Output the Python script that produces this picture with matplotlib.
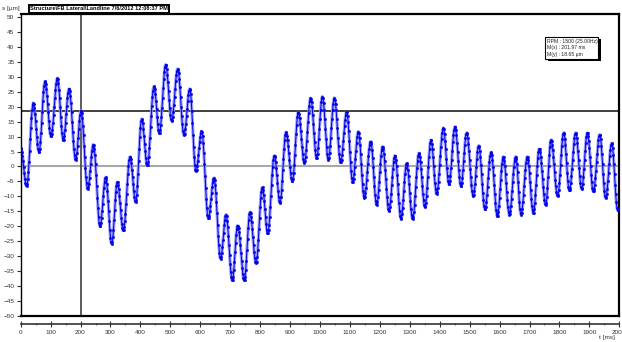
import numpy as np
import matplotlib
matplotlib.use("Agg")
import matplotlib.pyplot as plt
from matplotlib.patches import Rectangle

plt.rcParams['font.family'] = ['Liberation Sans Narrow', 'Liberation Sans', 'DejaVu Sans']

# ---- data: extremes (peaks / troughs) of the displacement signal ----
ext_t = [0, 19.9, 42.2, 61.1, 81.2, 101.2, 122.4, 142.4, 161.4, 183.7, 201.5, 223.8, 242.7, 265, 283.9, 304, 322.9,
         342.9, 365.2, 384.1, 404.2, 423.1, 445.4, 463.2, 484.4, 504.4, 524.5, 545.6, 564.6, 585.7, 604.6, 626.9, 645.8,
         667.9, 685.9, 707, 724.8, 747.1, 766.1, 786.2, 807.3, 825.2, 847.5, 866.4, 886.4, 907.6, 927.6, 947.7, 968.8, 988.9,
         1007.8, 1027.8, 1047.9, 1069, 1089.1, 1109.1, 1128, 1148.1, 1169.2, 1189.3, 1209.3, 1230.5, 1250.5, 1270.6, 1289.5, 1309.6, 1330.7,
         1350.7, 1370.8, 1389.7, 1412, 1430.9, 1451, 1471, 1489.9, 1512.2, 1530.1, 1551.3, 1571.3, 1592.5, 1612.6, 1632.6, 1653.8,
         1671.6, 1692.7, 1712.8, 1732.8, 1754, 1771.8, 1794.1, 1814.1, 1833.1, 1854.2, 1874.3, 1893.2, 1913.2, 1934.4, 1954.5, 1974.5, 1994.5, 2000]
ext_v = [6.2, -6.6, 21.2, 4.8, 28.5, 10.0, 29.5, 8.7, 26.0, 2.2, 18.7, -7.5, 7.4, -20.0, -3.6, -25.9, -5.2,
         -21.4, 3.3, -11.9, 15.9, 0.3, 26.8, 11.1, 34.1, 15.2, 32.7, 10.4, 26.0, -1.6, 11.8, -17.3, -3.8,
         -30.9, -16.1, -38.1, -19.7, -38.1, -15.3, -32.3, -6.9, -22.3, 3.7, -12.2, 11.5, -5.0, 18.2, 1.1, 22.9, 2.8,
         23.4, 2.3, 22.9, 1.4, 18.2, -5.2, 11.7, -10.5, 8.4, -12.8, 6.7, -14.9, 3.7, -17.5, 1.1, -17.5, 4.5,
         -13.6, 8.9, -9.1, 12.9, -6.0, 13.4, -6.6, 11.3, -10.0, 7.0, -14.4, 4.8, -16.7, 3.3, -16.1, 3.3,
         -16.1, 3.3, -15.6, 5.9, -12.8, 8.9, -9.9, 11.3, -8.0, 11.3, -7.5, 11.3, -8.4, 10.7, -10.6, 7.8, -14.7, -14.0]

cursor_x = 201.97
cursor_y = 18.65
title_text = "Structure\\FB Lateral\\Landline 7/6/2012 12:08:37 PM"
info_lines = ["RPM : 1500 (25.00Hz)", "M(x) : 201.97 ms", "M(y) : 18.65 \u00b5m"]
x_ticks = list(range(0, 2001, 100))
y_ticks = list(range(-50, 51, 5))

# smooth half-cosine rendering between consecutive extremes
et = np.array(ext_t, float)
ev = np.array(ext_v, float)
t = np.arange(0, 2000.01, 2.0)
idx = np.clip(np.searchsorted(et, t, side='right') - 1, 0, len(et) - 2)
frac = (t - et[idx]) / (et[idx + 1] - et[idx])
v = ev[idx] + (ev[idx + 1] - ev[idx]) * (1 - np.cos(np.pi * frac)) / 2

W, H = 622, 342
fig = plt.figure(figsize=(W / 100, H / 100), dpi=100)
ax = fig.add_axes([20.7 / W, 26 / H, (619.3 - 20.7) / W, (316 - 14) / H])
ax.set_xlim(0, 2000)
ax.set_ylim(-50, 51)

ax.axhline(0, color='#a8a8a8', lw=1.5, zorder=1)
ax.axhline(cursor_y, color='#404040', lw=1.4, zorder=1)
ax.axvline(cursor_x, color='#404040', lw=1.2, zorder=1)

ax.plot(t, v, color='#9090ff', lw=2.3, alpha=0.85, zorder=2, solid_capstyle='butt')
ax.plot(t, v, color='#0000e6', lw=0.7, marker='s', ms=0.9, mec='#0000e6', mfc='#0000e6', zorder=3)

ax.axhline(-50, color='black', lw=1.6, clip_on=False, zorder=4)

for s in ['top', 'right']:
    ax.spines[s].set_linewidth(1.6)
ax.spines['left'].set_linewidth(1.0)
ax.spines['bottom'].set_position(('outward', 6))
ax.spines['bottom'].set_linewidth(1.2)
ax.spines['bottom'].set_color('#333333')

ax.set_xticks(x_ticks)
ax.set_xticklabels([str(x) for x in x_ticks])
ax.set_xticks(np.arange(0, 2001, 50), minor=True)
ax.set_yticks(y_ticks)
ax.tick_params(axis='x', which='major', direction='inout', length=5, width=0.8, labelsize=4.6, pad=1.5, colors='#333333')
ax.tick_params(axis='x', which='minor', direction='inout', length=2, width=0.5, colors='#333333')
ax.tick_params(axis='y', direction='out', length=3, width=0.8, labelsize=4.6, pad=1.5, colors='#333333')

fig.text(2 / W, 1 - 8.5 / H, "s [\u00b5m]", fontsize=4.6, color='#333333', va='center', ha='left')
fig.text(607 / W, 1 - 337 / H, "t [ms]", fontsize=4.6, color='#333333', va='center', ha='center')

fig.text(30 / W, 1 - 9 / H, title_text, fontsize=4.1, fontweight='bold', va='center', ha='left',
         bbox=dict(boxstyle='square,pad=0.25', fc='white', ec='black', lw=1.4))

# info box drawn in pixel coordinates (shadow + frame), then the three lines
def px_rect(x0, y0, x1, y1, **kw):
    return Rectangle((x0 / W, 1 - y1 / H), (x1 - x0) / W, (y1 - y0) / H, transform=fig.transFigure, **kw)

fig.patches.append(px_rect(547.5, 39, 600.5, 61, fc='black', ec='none', zorder=5))
fig.patches.append(px_rect(545, 37, 598, 59, fc='white', ec='black', lw=0.8, zorder=6))
for i, line in enumerate(info_lines):
    fig.text(547 / W, 1 - (41.5 + i * 6.3) / H, line, fontsize=3.7, va='center', ha='left',
             color='#222222', zorder=7)

fig.savefig("out.png", dpi=100)
